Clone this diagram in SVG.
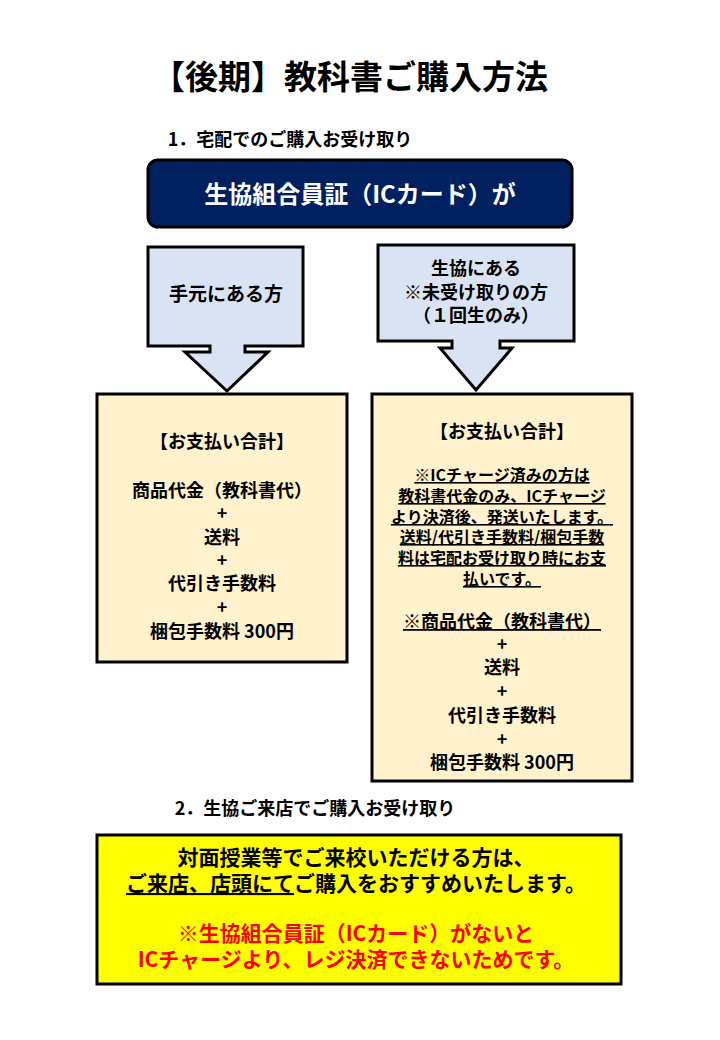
<svg xmlns="http://www.w3.org/2000/svg" width="720" height="1040" viewBox="0 0 720 1040">
<style>
text{font-family:"Noto Sans CJK JP","Noto Sans CJK SC",sans-serif;font-weight:bold;text-anchor:middle;fill:#000}
.b{fill:#FFF2CC;stroke:#000;stroke-width:3}
.ar{fill:#DAE3F3;stroke:#000;stroke-width:3;stroke-linejoin:miter}
.t16{font-size:16px}.t18{font-size:18px}.t19{font-size:19px}.t17{font-size:17px}.t21{font-size:21px}
.u{text-decoration:underline}
.r{fill:#FF0000}
</style>
<rect width="720" height="1040" fill="#fff"/>
<text x="350" y="89" font-size="33">【後期】教科書ご購入方法</text>
<text x="290" y="146" class="t18">1．宅配でのご購入お受け取り</text>
<g id="banner"><rect x="148" y="160" width="424" height="67" rx="10" fill="#002060" stroke="#000" stroke-width="3"/>
<text x="360" y="203" font-size="24" style="fill:#fff">生協組合員証（ICカード）が</text></g>
<g id="arrowL"><path class="ar" d="M148,247H303V346H245V352H268L227,391L185,352H210V346H148Z"/>
<text x="226" y="301" class="t19">手元にある方</text></g>
<g id="arrowR"><path class="ar" d="M378,245H574V341H500V348H512L476,390L440,348H452V341H378Z"/>
<text x="476" y="275" class="t18">生協にある</text>
<text x="476" y="299" class="t18">※未受け取りの方</text>
<text x="476" y="322" class="t18">（１回生のみ）</text></g>
<g id="boxL"><rect class="b" x="97" y="394" width="250" height="268"/>
<g class="t18"><text x="222" y="448">【お支払い合計】</text>
<text x="222" y="497">商品代金（教科書代）</text>
<text x="222" y="520">+</text>
<text x="222" y="544">送料</text>
<text x="222" y="567">+</text>
<text x="222" y="590">代引き手数料</text>
<text x="222" y="614">+</text>
<text x="222" y="638">梱包手数料 300円</text></g></g>
<g id="boxR"><rect class="b" x="372" y="394" width="260" height="387"/>
<text x="502" y="438" class="t18">【お支払い合計】</text>
<g class="t16 u"><text x="502" y="481">※ICチャージ済みの方は</text>
<text x="502" y="502">教科書代金のみ、ICチャージ</text>
<text x="502" y="523">より決済後、発送いたします。</text>
<text x="502" y="543">送料/代引き手数料/梱包手数</text>
<text x="502" y="564">料は宅配お受け取り時にお支</text>
<text x="502" y="585">払いです。</text></g>
<g class="t18"><text x="502" y="628" class="u">※商品代金（教科書代）</text>
<text x="502" y="651">+</text>
<text x="502" y="674">送料</text>
<text x="502" y="698">+</text>
<text x="502" y="722">代引き手数料</text>
<text x="502" y="746">+</text>
<text x="502" y="769">梱包手数料 300円</text></g></g>
<text x="315" y="815" class="t18">2．生協ご来店でご購入お受け取り</text>
<g id="boxY"><rect x="97" y="835" width="524" height="149" fill="#FFFF00" stroke="#000" stroke-width="3"/>
<g class="t21"><text x="356" y="865">対面授業等でご来校いただける方は、</text>
<text x="356" y="891"><tspan class="u">ご来店、店頭にて</tspan>ご購入をおすすめいたします。</text>
<text x="356" y="941" class="r">※生協組合員証（ICカード）がないと</text>
<text x="356" y="967" class="r">ICチャージより、レジ決済できないためです。</text></g></g>
</svg>
